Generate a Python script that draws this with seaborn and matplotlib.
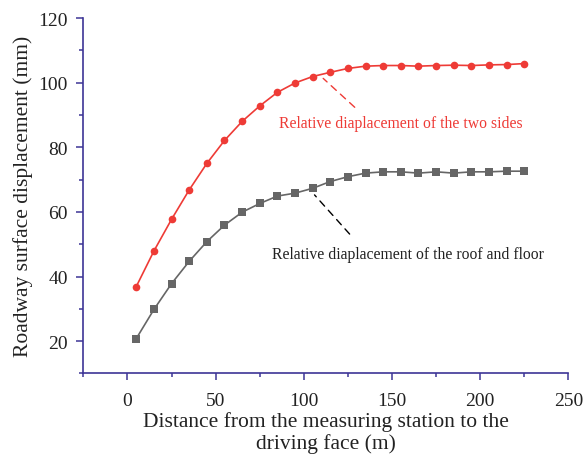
import numpy as np
import pandas as pd
import seaborn as sns
import matplotlib.pyplot as plt
from matplotlib.ticker import MultipleLocator

# distance to the driving face (m)
distance = [5, 15, 25, 35, 45, 55, 65, 75, 85, 95, 105, 115, 125,
            135, 145, 155, 165, 175, 185, 195, 205, 215, 225]
# relative displacement of the two sides (mm)
two_sides = [36.9, 47.9, 57.7, 66.8, 75.0, 82.1, 88.0, 92.8, 97.0, 99.9, 101.9, 103.2,
             104.4, 105.1, 105.3, 105.3, 105.1, 105.3, 105.4, 105.3, 105.5, 105.6, 105.9]
# relative displacement of the roof and floor (mm)
roof_floor = [20.8, 29.8, 37.8, 44.7, 50.8, 55.9, 59.9, 62.6, 64.9, 65.8, 67.3, 69.4,
              70.9, 72.0, 72.4, 72.4, 72.0, 72.4, 72.0, 72.4, 72.4, 72.6, 72.6]

df = pd.DataFrame({"x": distance, "sides": two_sides, "roof": roof_floor})

sns.set_style("ticks")
plt.rcParams["font.family"] = ["Liberation Serif", "DejaVu Serif"]

axis_col = "#3d3596"
red = "#ee3b36"
gray = "#666666"

fig = plt.figure(figsize=(5.83, 4.64), dpi=100)
ax = fig.add_axes([0.143, 0.193, 0.832, 0.766])

sns.lineplot(data=df, x="x", y="sides", ax=ax, color=red, marker="o",
             markersize=5.5, markeredgewidth=0, linewidth=1.2)
sns.lineplot(data=df, x="x", y="roof", ax=ax, color=gray, marker="s",
             markersize=6, markeredgewidth=0, linewidth=1.2)

ax.set_xlim(-25, 250)
ax.set_ylim(10, 120)
ax.xaxis.set_major_locator(MultipleLocator(50))
ax.xaxis.set_minor_locator(MultipleLocator(25))
ax.yaxis.set_major_locator(MultipleLocator(20))
ax.yaxis.set_minor_locator(MultipleLocator(10))

for s in ["top", "right"]:
    ax.spines[s].set_visible(False)
for s in ["left", "bottom"]:
    ax.spines[s].set_color(axis_col)
    ax.spines[s].set_linewidth(1.2)
ax.tick_params(which="both", direction="out", color=axis_col, width=1.1,
               labelsize=14, labelcolor="#222222")
ax.tick_params(which="major", length=5)
ax.tick_params(which="minor", length=3)
ax.tick_params(axis="x", which="major", pad=8)
ax.tick_params(axis="y", which="major", pad=6)

ax.set_xlabel("Distance from the measuring station to the\ndriving face (m)",
              fontsize=15.5, color="#222222", linespacing=1.1, labelpad=2)
ax.set_ylabel("Roadway surface displacement (mm)", fontsize=15.5, color="#222222")

ax.annotate("", xy=(109.8, 101.9), xytext=(130, 91.8),
            arrowprops=dict(arrowstyle="-", linestyle=(0, (5, 4)), color=red, lw=1))
ax.text(155, 87.6, "Relative diaplacement of the two sides", color=red,
        fontsize=11.3, ha="center", va="center")

ax.annotate("", xy=(105, 65.9), xytext=(127, 52.5),
            arrowprops=dict(arrowstyle="-", linestyle=(0, (5, 4)), color="black", lw=1))
ax.text(159, 47.1, "Relative diaplacement of the roof and floor", color="#222222",
        fontsize=11.3, ha="center", va="center")

fig.savefig("out.png", dpi=100)
